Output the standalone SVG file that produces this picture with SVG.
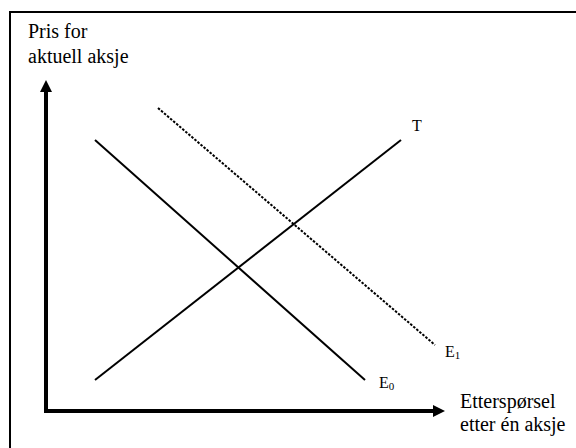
<svg xmlns="http://www.w3.org/2000/svg" width="576" height="448" viewBox="0 0 576 448">
<defs>
<style>
.lbl{font-family:"Liberation Serif","Times New Roman",serif;fill:#000}
.big{font-size:20px}
.sm{font-size:16px}
.sub{font-size:11px}
.ln{stroke:#000;stroke-width:2;fill:none}
.ax{stroke:#000;stroke-width:4;fill:none}
</style>
<marker id="ah" viewBox="0 0 12 12" refX="2" refY="6" markerWidth="12" markerHeight="12" markerUnits="userSpaceOnUse" orient="auto">
<path d="M0,0 L12,6 L0,12 Z" fill="#000"/>
</marker>
</defs>
<rect x="0" y="0" width="576" height="448" fill="#fff"/>
<rect x="10" y="12" width="620" height="500" fill="none" stroke="#000" stroke-width="2"/>
<g id="connectors">
<polyline class="ax" points="46,88 46,411 435,411" marker-end="url(#ah)"/>
<line class="ax" x1="46" y1="100" x2="46" y2="90" marker-end="url(#ah)"/>
<line class="ln" x1="95" y1="140" x2="365" y2="380"/>
<line class="ln" x1="95" y1="380" x2="401" y2="140"/>
<line class="ln" x1="158" y1="108" x2="435" y2="345" stroke-width="3.5" stroke-dasharray="2.5,1.5"/>
</g>
<g id="yaxis-label"><text class="lbl big" x="28" y="38">Pris for</text><text class="lbl big" x="28" y="63">aktuell aksje</text></g>
<g id="xaxis-label"><text class="lbl big" x="460" y="408">Etterspørsel</text><text class="lbl big" x="460" y="431">etter én aksje</text></g>
<g id="T"><text class="lbl sm" x="412" y="131">T</text></g>
<g id="E1"><text class="lbl sm" x="445" y="357">E<tspan class="sub" dy="2">1</tspan></text></g>
<g id="E0"><text class="lbl sm" x="379" y="388">E<tspan class="sub" dy="2">0</tspan></text></g>
</svg>
